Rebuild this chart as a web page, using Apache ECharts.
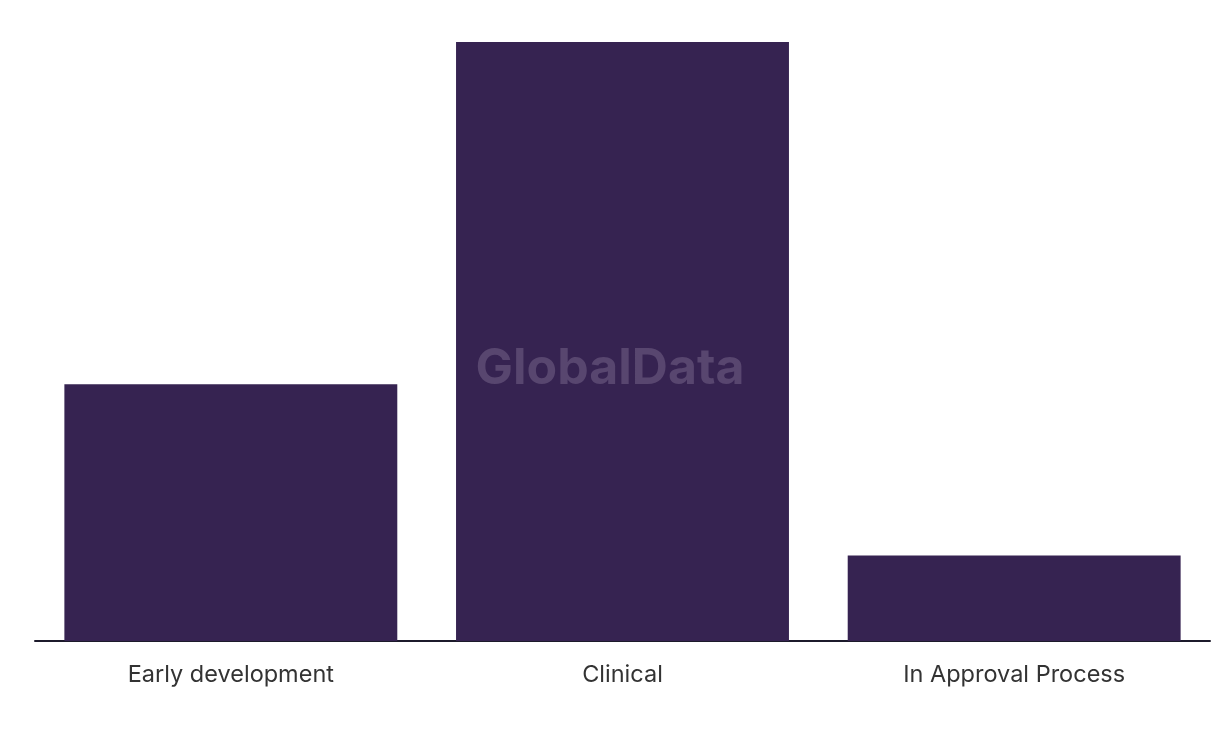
<!DOCTYPE html>
<html><head><meta charset="utf-8">
<script src="https://cdn.jsdelivr.net/npm/echarts@6/dist/echarts.min.js"></script>
<style>html,body{margin:0;padding:0;background:#fff}#c{width:1220px;height:736px}</style>
</head><body><div id="c"></div>
<script>
const categories = ['Early development', 'Clinical', 'In Approval Process'];
const values = [3, 7, 1];
const chart = echarts.init(document.getElementById('c'));
chart.setOption({
  animation: false,
  grid: { left: 35, right: 10, top: 42, bottom: 95, containLabel: false },
  xAxis: {
    type: 'category', data: categories,
    axisLine: { lineStyle: { color: '#1c1a2b', width: 2 } },
    axisTick: { show: false },
    axisLabel: { color: '#333', fontSize: 23.5, fontWeight: 400, fontFamily: 'Inter, Roboto, sans-serif', margin: 22 }
  },
  yAxis: { type: 'value', min: 0, max: 7, show: false, splitLine: { show: false } },
  series: [{ type: 'bar', data: values, barCategoryGap: '15%', itemStyle: { color: '#362351' } }],
  graphic: [{
    type: 'text', x: 610, y: 369, z: 100,
    style: { text: 'GlobalData', fill: '#58466f', align: 'center', verticalAlign: 'middle',
             font: 'bold 50px Inter, Roboto, sans-serif' }
  }]
});
</script></body></html>
